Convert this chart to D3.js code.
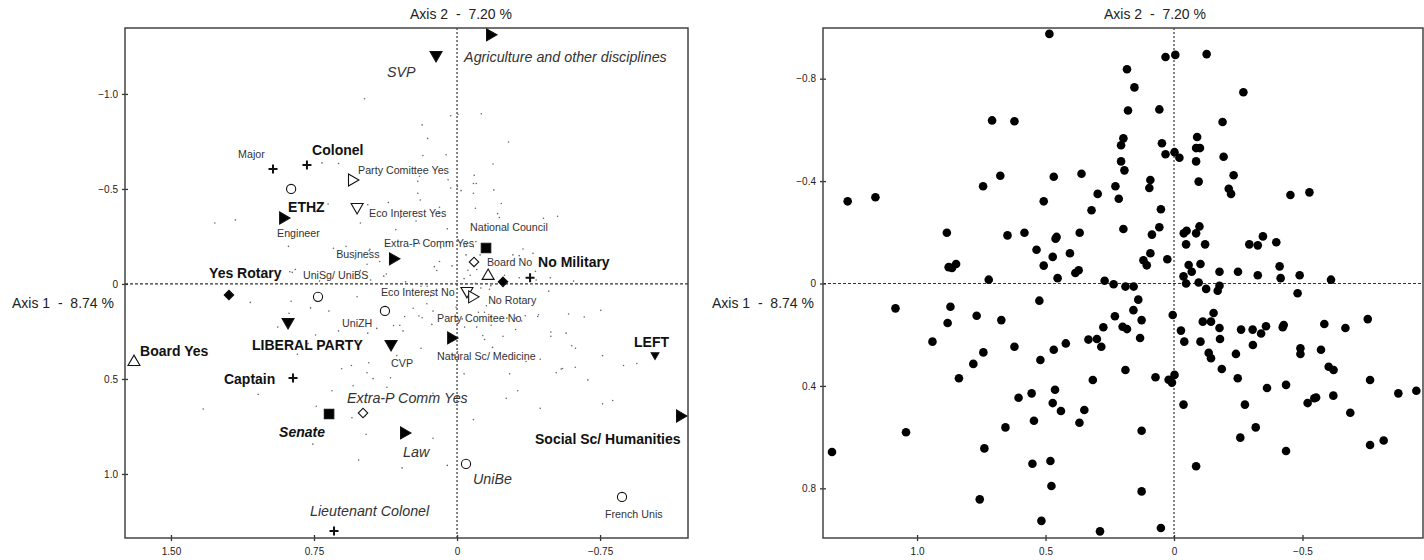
<!DOCTYPE html>
<html><head><meta charset="utf-8">
<script src="https://cdn.jsdelivr.net/npm/d3@7"></script>
<style>
html,body{margin:0;padding:0;background:#fff;}
svg{display:block;font-family:"Liberation Sans",Arial,sans-serif;}
</style></head>
<body>
<svg id="chart" width="1424" height="560"></svg>
<script>
// ---- Data ----
// Individuals (axis 1, axis 2) – same cloud drawn small on left, large on right
const indX = [0.485,0.708,0.621,0.197,0.206,0.206,0.193,0.676,0.468,0.360,0.743,0.228,0.297,1.270,1.162,0.507,0.215,0.321,0.197,0.884,0.648,0.582,0.461,0.457,0.367,0.535,0.472,0.405,0.877,0.864,0.848,0.507,0.384,0.371,0.721,0.453,0.270,0.235,
0.033,-0.005,-0.127,0.183,0.154,-0.270,0.179,0.057,-0.189,-0.090,0.047,-0.086,-0.101,0.033,-0.002,-0.021,-0.193,-0.086,-0.232,0.092,0.096,-0.096,-0.213,-0.222,-0.453,-0.527,0.051,0.057,0.086,-0.038,-0.049,-0.086,-0.099,-0.047,-0.121,-0.293,-0.326,-0.346,-0.398,0.092,0.119,0.106,0.026,-0.057,-0.103,-0.069,-0.037,-0.177,-0.249,-0.326,-0.411,-0.415,-0.489,-0.611,
0.189,0.157,-0.047,-0.096,-0.125,-0.170,-0.177,0.139,0.158,0.126,0.005,0.200,0.183,0.132,0.189,-0.027,-0.040,-0.103,-0.112,-0.144,-0.154,-0.177,-0.179,-0.135,-0.144,-0.186,-0.241,-0.261,-0.306,-0.307,-0.339,-0.358,-0.423,-0.427,-0.481,-0.492,-0.492,-0.572,-0.585,-0.667,-0.754,-0.602,-0.621,-0.763,-0.873,-0.943,0.072,0.021,0.008,-0.002,-0.248,-0.362,-0.436,-0.520,-0.546,-0.553,-0.620,-0.686,-0.037,-0.276,-0.318,-0.258,-0.436,-0.763,-0.816,0.126,0.126,-0.086,0.051,
1.084,0.870,0.881,0.768,0.672,0.524,0.940,0.742,0.781,0.837,0.621,0.520,0.468,0.421,0.333,0.300,0.283,0.275,0.230,0.316,0.605,0.554,0.463,0.472,0.440,0.349,0.368,0.545,0.656,1.043,1.331,0.738,0.551,0.481,0.477,0.756,0.516,0.288];
const indY = [-0.975,-0.637,-0.634,-0.567,-0.540,-0.477,-0.442,-0.421,-0.417,-0.429,-0.380,-0.380,-0.350,-0.321,-0.337,-0.321,-0.331,-0.286,-0.213,-0.198,-0.188,-0.198,-0.175,-0.182,-0.198,-0.132,-0.104,-0.118,-0.064,-0.061,-0.076,-0.070,-0.041,-0.052,-0.015,-0.021,-0.011,0.003,
-0.885,-0.893,-0.896,-0.837,-0.766,-0.747,-0.676,-0.680,-0.631,-0.572,-0.548,-0.529,-0.529,-0.505,-0.513,-0.491,-0.495,-0.477,-0.423,-0.404,-0.373,-0.398,-0.370,-0.350,-0.346,-0.356,-0.290,-0.220,-0.191,-0.196,-0.206,-0.196,-0.223,-0.153,-0.153,-0.153,-0.149,-0.184,-0.161,-0.118,-0.091,-0.071,-0.095,-0.072,-0.076,-0.046,-0.028,-0.046,-0.046,-0.032,-0.067,-0.021,-0.032,-0.015,
0.012,0.012,0.000,-0.004,0.021,0.028,0.009,0.063,0.104,0.143,0.123,0.169,0.178,0.213,0.338,0.184,0.227,0.227,0.149,0.149,0.115,0.174,0.217,0.271,0.292,0.334,0.275,0.180,0.180,0.240,0.195,0.167,0.171,0.162,0.038,0.253,0.275,0.259,0.158,0.174,0.139,0.325,0.338,0.377,0.429,0.419,0.366,0.376,0.387,0.357,0.370,0.408,0.396,0.467,0.448,0.445,0.438,0.505,0.473,0.473,0.562,0.602,0.654,0.631,0.613,0.575,0.812,0.714,0.955,
0.097,0.091,0.154,0.126,0.143,0.067,0.227,0.269,0.314,0.370,0.247,0.299,0.259,0.234,0.219,0.217,0.247,0.171,0.128,0.377,0.446,0.429,0.415,0.467,0.498,0.494,0.544,0.536,0.562,0.581,0.658,0.644,0.704,0.693,0.791,0.843,0.927,0.968];

// Category points (left map)
const catShape = ["plus","plus","circleO","triR","diaF","triRO","triDO","triD","triR","sqF","triR","diaO","plus","triUO","diaF","triDO","triRO","circleO","circleO","triR","triD","triD","triDs","diaO","triR","triR","circleO","circleO","plus","triUO","plus","sqF"];
const catX = [0.965,0.787,0.870,0.912,1.196,0.551,0.524,0.110,-0.173,-0.152,0.336,-0.089,-0.383,-0.163,-0.241,-0.052,-0.079,0.378,0.729,0.031,0.346,0.886,-1.038,0.493,-1.169,0.278,-0.047,-0.865,0.645,1.694,0.860,0.671];
const catY = [-0.605,-0.626,-0.500,-0.347,0.058,-0.547,-0.405,-1.205,-1.311,-0.189,-0.132,-0.116,-0.032,-0.042,-0.011,0.037,0.068,0.142,0.068,0.284,0.316,0.200,0.374,0.679,0.695,0.784,0.947,1.121,1.300,0.411,0.495,0.684];

// Category labels
const labText = ["Major","Colonel","ETHZ","Engineer","Yes Rotary","Party Comittee Yes","Eco Interest Yes","SVP","Agriculture and other disciplines","National Council","Extra-P Comm Yes","Business","Board No","No Military","UniSg/ UniBS","Eco Interest No","No Rotary","UniZH","Party Comitee No","Natural Sc/ Medicine","CVP","LIBERAL PARTY","LEFT","Extra-P Comm Yes","Social Sc/ Humanities","Law","UniBe","French Unis","Lieutenant Colonel","Board Yes","Captain","Senate"];
const labStyle = ["s","b","b","s","b","s","s","i","i","s","s","s","s","b","s","s","s","s","s","s","s","b","b","i","b","i","i","s","i","b","b","bi"];
const labX = [1.148,0.760,0.886,0.944,1.300,0.519,0.461,0.367,-0.037,-0.068,0.383,0.634,-0.157,-0.425,0.808,0.399,-0.163,0.603,0.105,0.105,0.346,1.075,-0.928,0.577,-0.409,0.283,-0.084,-0.776,0.771,1.662,1.222,0.933];
const labY = [-0.684,-0.705,-0.405,-0.268,-0.058,-0.600,-0.374,-1.116,-1.195,-0.300,-0.216,-0.158,-0.116,-0.116,-0.047,0.042,0.084,0.205,0.179,0.379,0.416,0.321,0.305,0.600,0.816,0.884,1.026,1.211,1.195,0.353,0.500,0.779];

// Ticks
const leftXTicks = [1.5, 0.75, 0, -0.75];
const leftYTicks = [-1.0, -0.5, 0, 0.5, 1.0];
const rightXTicks = [1.0, 0.5, 0, -0.5];
const rightYTicks = [-0.8, -0.4, 0, 0.4, 0.8];
const axis1Title = "Axis 1  -  8.74 %";
const axis2Title = "Axis 2  -  7.20 %";

// ---- Drawing ----
const svg = d3.select("#chart");
const ink = "#222";

function panel(xs, ys, xTicks, yTicks, xFmt, yFmt) {
  const g = svg.append("g");
  const [x0, x1] = xs.range(), [y0, y1] = ys.range();
  g.append("line").attr("x1", xs(0)).attr("x2", xs(0)).attr("y1", y0).attr("y2", y1)
    .attr("stroke", "#333").attr("stroke-width", 1.2).attr("stroke-dasharray", "2,2");
  g.append("line").attr("x1", x0).attr("x2", x1).attr("y1", ys(0)).attr("y2", ys(0))
    .attr("stroke", "#333").attr("stroke-width", 1.2).attr("stroke-dasharray", "3,2");
  const fx = d => d === 0 ? "0" : d3.format(xFmt)(d);
  const fy = d => d === 0 ? "0" : d3.format(yFmt)(d);
  const ax = g.append("g").attr("transform", `translate(0,${y1})`)
    .call(d3.axisBottom(xs).tickValues(xTicks).tickFormat(fx).tickSize(3).tickPadding(7));
  ax.selectAll(".tick line").attr("y1", -3).attr("y2", 3);
  const ay = g.append("g").attr("transform", `translate(${x0},0)`)
    .call(d3.axisLeft(ys).tickValues(yTicks).tickFormat(fy).tickSize(3).tickPadding(4));
  ay.selectAll(".tick line").attr("x1", -3).attr("x2", 3);
  [ax, ay].forEach(a => {
    a.select(".domain").remove();
    a.selectAll(".tick line").attr("stroke", "#333").attr("stroke-width", 1.3);
    a.selectAll(".tick text").attr("fill", ink).attr("font-size", 10)
      .attr("font-family", "'Liberation Sans',Arial,sans-serif");
  });
  g.append("rect").attr("x", x0).attr("y", y0).attr("width", x1 - x0).attr("height", y1 - y0)
    .attr("fill", "none").attr("stroke", "#444").attr("stroke-width", 1.5);
  return g;
}

// Left panel
const xL = d3.scaleLinear().domain([1.741, -1.211]).range([125, 688]);
const yL = d3.scaleLinear().domain([-1.347, 1.337]).range([28, 538]);
const gL = panel(xL, yL, leftXTicks, leftYTicks, ".2f", ".1f");

// Right panel
const xR = d3.scaleLinear().domain([1.366, -0.969]).range([823, 1423]);
const yR = d3.scaleLinear().domain([-0.998, 0.994]).range([28, 538]);
const gR = panel(xR, yR, rightXTicks, rightYTicks, ".1f", ".1f");

const ind = indX.map((x, i) => ({x, y: indY[i]}));

gL.append("g").selectAll("circle").data(ind).join("circle")
  .attr("cx", d => xL(d.x)).attr("cy", d => yL(d.y)).attr("r", 0.8).attr("fill", "#666");

gR.append("g").selectAll("circle").data(ind).join("circle")
  .attr("cx", d => xR(d.x)).attr("cy", d => yR(d.y)).attr("r", 4.3).attr("fill", "#000");

const cats = catShape.map((s, i) => ({s, x: catX[i], y: catY[i]}));
const symTri = d3.symbol().type(d3.symbolTriangle);
const shapeDef = {
  triR:  {d: symTri.size(62)(), rot: 90, fill: "#000"},
  triRO: {d: symTri.size(62)(), rot: 90, fill: "#fff"},
  triD:  {d: symTri.size(62)(), rot: 180, fill: "#000"},
  triDO: {d: symTri.size(62)(), rot: 180, fill: "#fff"},
  triUO: {d: symTri.size(62)(), rot: 0, fill: "#fff"},
  triDs: {d: symTri.size(26)(), rot: 180, fill: "#000"},
  circleO: {d: d3.symbol().type(d3.symbolCircle).size(66)(), rot: 0, fill: "#fff"},
  sqF:   {d: d3.symbol().type(d3.symbolSquare).size(90)(), rot: 0, fill: "#000"},
  diaF:  {d: d3.symbol().type(d3.symbolSquare).size(45)(), rot: 45, fill: "#000"},
  diaO:  {d: d3.symbol().type(d3.symbolSquare).size(45)(), rot: 45, fill: "#fff"},
  plus:  {d: "M-4.5,0H4.5M0,-4.5V4.5", rot: 0, fill: "none"}
};
gL.append("g").selectAll("path").data(cats).join("path")
  .attr("d", d => shapeDef[d.s].d)
  .attr("transform", d => `translate(${xL(d.x)},${yL(d.y)}) rotate(${shapeDef[d.s].rot})`)
  .attr("fill", d => shapeDef[d.s].fill)
  .attr("stroke", "#111")
  .attr("stroke-width", d => d.s === "plus" ? 2 : 1.1);

const labs = labText.map((t, i) => ({t, s: labStyle[i], x: labX[i], y: labY[i]}));
const fsz = {s: 10.7, b: 14, i: 14.3, bi: 14};
gL.append("g").selectAll("text").data(labs).join("text")
  .attr("x", d => xL(d.x)).attr("y", d => yL(d.y)).attr("dy", "0.36em")
  .attr("font-size", d => fsz[d.s])
  .attr("font-weight", d => (d.s === "b" || d.s === "bi") ? "bold" : "normal")
  .attr("font-style", d => (d.s === "i" || d.s === "bi") ? "italic" : "normal")
  .attr("fill", d => (d.s === "s" || d.s === "i") ? "#333" : "#111")
  .text(d => d.t);

function title(x, y, t, anchor) {
  svg.append("text").attr("x", x).attr("y", y).attr("dy", "0.35em")
    .attr("text-anchor", anchor).attr("font-size", 14).attr("fill", ink)
    .style("white-space", "pre").text(t);
}
title(461, 14, axis2Title, "middle");
title(1155, 14, axis2Title, "middle");
title(12, 303, axis1Title, "start");
title(712, 303, axis1Title, "start");
</script>
</body></html>
